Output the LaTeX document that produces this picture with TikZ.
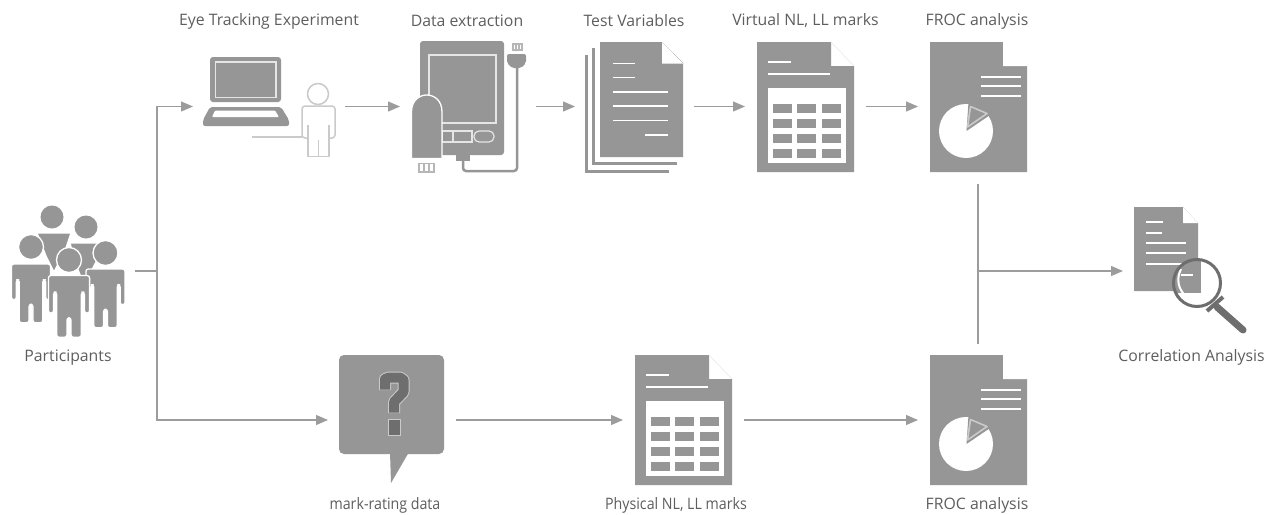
\documentclass[tikz,border=0pt]{standalone}
\usepackage{fontspec}
\setmainfont{Open Sans}
\usetikzlibrary{arrows.meta}
\definecolor{ico}{HTML}{969696}
\definecolor{icodark}{HTML}{6E6E6E}
\definecolor{conn}{HTML}{9C9C9C}
\definecolor{txt}{HTML}{5E5E5E}
\definecolor{pale}{HTML}{CACACA}
\tikzset{
  lbl/.style={text=txt,font=\fontsize{15.8}{18}\selectfont,inner sep=0pt,anchor=center},
  lblnarrow/.style={lbl,xscale=0.9},
  flow/.style={draw=conn,line width=1.1pt,-{Triangle[length=12pt,width=10pt,fill=conn]}},
  plain/.style={draw=conn,line width=1.1pt},
  wl/.style={draw=white,line width=1.9pt},
  cell/.style={fill=ico},
  pt/.style={fill=ico,draw=white,line width=1.3pt,line join=round},
}
\newcommand{\tabledoc}[1]{\begin{scope}[shift={(#1)}]
  \fill[ico] (757,42) -- (831,42) -- (831,66) -- (854,66) -- (854,172) -- (757,172) -- cycle;
  \draw[draw=black!7,line width=.7pt] (831,42) -- (854,66);
  \draw[wl] (768,62) -- (791,62) (768,74) -- (830,74);
  \fill[white] (768,88) rectangle (846,163);
  \foreach \yy in {104,119,134,149} \foreach \xx in {773,797,822} \fill[cell] (\xx,\yy) rectangle ++(19,8.5);
\end{scope}}
\newcommand{\frocdoc}[1]{\begin{scope}[shift={(0,#1)}]
  \fill[ico] (930,42) -- (1003,42) -- (1003,66) -- (1027,66) -- (1027,172) -- (930,172) -- cycle;
  \fill[white] (1003,42) -- (1027,66) -- (1003,66) -- cycle;
  \draw[wl] (981,77) -- (1021,77) (981,86) -- (1021,86) (981,96) -- (1021,96);
  \fill[white] (966,131) circle (27pt);
  \fill[ico] (966.5,131) -- (968.5,102) -- (993,113) -- cycle;
  \draw[pale,line width=1.6pt,fill=ico,line join=round] (967.5,127) -- (970.5,106.5) -- (987,113.5) -- cycle;
\end{scope}}
\newcommand{\persona}[4]{% x head, y head, y shoulder, scale
  \begin{scope}[shift={(#1,#3)},scale=#4]
  \fill[pt,rounded corners=2.5pt] (-20,36.5) -- (-20,0) -- (20,0) -- (20,36.5) -- (15,36.5) -- (15,16) -- (12,16) -- (12,60) -- (2,60) -- (2,41) -- (-2,41) -- (-2,60) -- (-12,60) -- (-12,16) -- (-15,16) -- (-15,36.5) -- cycle;
  \end{scope}
  \fill[pt] (#1,#2) circle (12.5pt);}
\begin{document}
\begin{tikzpicture}[x=1pt,y=-1pt]
\useasboundingbox (0,0) rectangle (1274,514);
\fill[white] (0,0) rectangle (1274,514);
% ---------- labels
\node[lbl] (lEye)  at (269,21) {Eye Tracking Experiment};
\node[lbl] (lData) at (467,21) {Data extraction};
\node[lbl] (lTest) at (634,21) {Test Variables};
\node[lbl] (lVirt) at (805.5,21) {Virtual NL, LL marks};
\node[lbl] (lFr1)  at (977,21) {FROC analysis};
\node[lbl] (lPart) at (68,357.5) {Participants};
\node[lbl] (lCorr) at (1191.5,357.5) {Correlation Analysis};
\node[lblnarrow] (lMark) at (385,505.5) {mark-rating data};
\node[lblnarrow] (lPhys) at (676,505.5) {Physical NL, LL marks};
\node[lbl] (lFr2)  at (977,505.5) {FROC analysis};
% ---------- participants
\fill[ico] (52,217) circle (11.5pt);
\fill[pt] (37,233) -- (71,233) -- (66,248) -- (54,272) -- (46,256) -- cycle;
\fill[ico] (86,227) circle (11.5pt);
\fill[pt] (70,243) -- (102,243) -- (96,262) -- (84,285) -- (75,262) -- cycle;
\persona{31}{247}{264}{0.98}
\persona{105.5}{253}{269}{0.98}
\persona{69}{260}{275.5}{1.03}
% ---------- laptop and viewer
\fill[ico,rounded corners=3pt] (210,102) -- (210,57) -- (281,57) -- (281,102) -- cycle;
\draw[draw=white!75!ico,line width=1.3pt] (215.5,62) rectangle (276,97.5);
\fill[ico,rounded corners=2pt] (210,107) -- (281,107) -- (289,120) -- (289,126) -- (203,126) -- (203,120) -- cycle;
\fill[white,rounded corners=1pt] (215,110.5) -- (275,110.5) -- (279,117) -- (212,117) -- cycle;
\draw[pale,line width=1.5pt] (318,94) circle (10.5pt);
\draw[pale,line width=1.5pt,line join=round,rounded corners=3pt] (308,138) -- (302,138) -- (302,106) -- (335,106) -- (335,138) -- (329,138);
\draw[pale,line width=1.5pt,line join=round] (308,125) -- (308,156.5) -- (329,156.5) -- (329,125) (318.5,140) -- (318.5,156.5);
\draw[pale,line width=1.5pt] (252,137) -- (302,137);
% ---------- tablet and memory stick
\fill[ico,rounded corners=3pt] (420,41) rectangle (504,155);
\draw[draw=white!75!ico,line width=1.4pt] (429,55) rectangle (496,123);
\draw[draw=white!75!ico,line width=1.2pt] (442,131) rectangle (453,142) (453,131) rectangle (472,142);
\draw[draw=white!75!ico,line width=1.2pt,rounded corners=5pt] (474,131) -- (494,131) -- (494,142) -- (474,142) -- cycle;
\fill[ico] (456,155) rectangle (470,161);
\draw[ico,line width=2.5pt,line join=round,rounded corners=3pt] (463,161) -- (463,171) -- (517,171) -- (517,68);
\fill[ico,rounded corners=2pt] (507,54) -- (526,54) -- (526,63) -- (521,68) -- (512,68) -- (507,63) -- cycle;
\draw[pale!90!black,line width=1.2pt] (513,44) rectangle (522,50) (516,44) -- (516,50) (519,44) -- (519,50);
\draw[white,line width=1.3pt,fill=ico] (411.5,158.5) -- (411.5,112) .. controls (411.5,100) and (420,95) .. (426.5,95) .. controls (434,95) and (442,100) .. (442,112) -- (442,158.5) -- cycle;
\draw[pale!90!black,line width=1.4pt] (419,163.5) rectangle (434,172) (424,163.5) -- (424,172) (429,163.5) -- (429,172);
% ---------- test variables
\draw[ico,line width=3.2pt] (586.5,55) -- (586.5,171.5) -- (669,171.5);
\draw[ico,line width=3.2pt] (593.5,48) -- (593.5,163.5) -- (677,163.5);
\fill[ico] (600,42) -- (662,42) -- (683,63) -- (683,157) -- (600,157) -- cycle;
\fill[white] (662,42) -- (683,63.5) -- (662,63.5) -- cycle;
\draw[wl] (613,63.5) -- (635,63.5) (613,77.5) -- (635,77.5) (613,92) -- (668,92) (613,106) -- (668,106) (613,120.5) -- (668,120.5) (645,135) -- (668,135);
% ---------- documents
\tabledoc{0,0}
\tabledoc{-122,313}
\frocdoc{0}
\frocdoc{313}
% ---------- question bubble
\fill[ico,rounded corners=5pt] (339,355) rectangle (444,454);
\fill[ico] (390,452) -- (391,483) -- (409,452) -- cycle;
\draw[pale,line width=12pt,line join=round] (385,390) -- (385,379) -- (389,377.5) -- (400,377.5) -- (403.5,380) -- (403.5,392) -- (394,402) -- (394,413);
\draw[pale,fill=icodark,line width=1pt] (388,419) rectangle (400,435.5);
\draw[icodark,line width=10pt,line join=round] (385,389.5) -- (385,379) -- (389,377.5) -- (400,377.5) -- (403.5,380) -- (403.5,392) -- (394,402) -- (394,412.5);
% ---------- correlation document
\fill[ico] (1134,207) -- (1183,207) -- (1198,223) -- (1198,291) -- (1134,291) -- cycle;
\fill[white] (1183,207) -- (1198,223) -- (1183,223) -- cycle;
\draw[wl] (1146,222) -- (1163,222) (1146,233) -- (1162,233) (1146,243) -- (1186,243) (1146,253) -- (1186,253) (1146,264) -- (1186,264);
\fill[white] (1197,283) circle (24pt);
\begin{scope}
\clip (1197,283) circle (23pt);
\fill[ico] (1170,255) rectangle (1201,293);
\draw[white,line width=2pt] (1181,269) .. controls (1176,279) and (1178,290) .. (1187,297);
\draw[wl] (1181,275) -- (1193,275);
\end{scope}
\draw[icodark,line width=3pt] (1197,283) circle (23.5pt);
\draw[icodark,line width=7pt,line cap=round] (1217,307) -- (1243,330);
\draw[icodark,line width=4pt] (1207,311) -- (1223,297);
% ---------- connector junctions
\coordinate (pOut) at (135,271);
\coordinate (trunk) at (157,271);
\coordinate (tTop) at (157,106.5);
\coordinate (tBot) at (157,420);
\coordinate (eyeIn) at (193,106.5);
\coordinate (eyeOut) at (345,106.5);
\coordinate (dataIn) at (400,106.5);
\coordinate (dataOut) at (536,106.5);
\coordinate (testIn) at (575,106.5);
\coordinate (testOut) at (694,106.5);
\coordinate (virtIn) at (745,106.5);
\coordinate (virtOut) at (866,106.5);
\coordinate (frAIn) at (918,106.5);
\coordinate (markIn) at (328,420);
\coordinate (markOut) at (456,420);
\coordinate (physIn) at (623,420);
\coordinate (physOut) at (744,420);
\coordinate (frBIn) at (918,420);
\coordinate (mTop) at (978,184);
\coordinate (mBot) at (978,344);
\coordinate (mMid) at (978,271);
\coordinate (corrIn) at (1123,271);
\draw[plain] (pOut) -- (trunk);
\draw[flow] (trunk) -- (tTop) -- (eyeIn);
\draw[flow] (trunk) -- (tBot) -- (markIn);
\draw[flow] (eyeOut) -- (dataIn);
\draw[flow] (dataOut) -- (testIn);
\draw[flow] (testOut) -- (virtIn);
\draw[flow] (virtOut) -- (frAIn);
\draw[flow] (markOut) -- (physIn);
\draw[flow] (physOut) -- (frBIn);
\draw[plain] (mTop) -- (mBot);
\draw[flow] (mMid) -- (corrIn);
\end{tikzpicture}
\end{document}
